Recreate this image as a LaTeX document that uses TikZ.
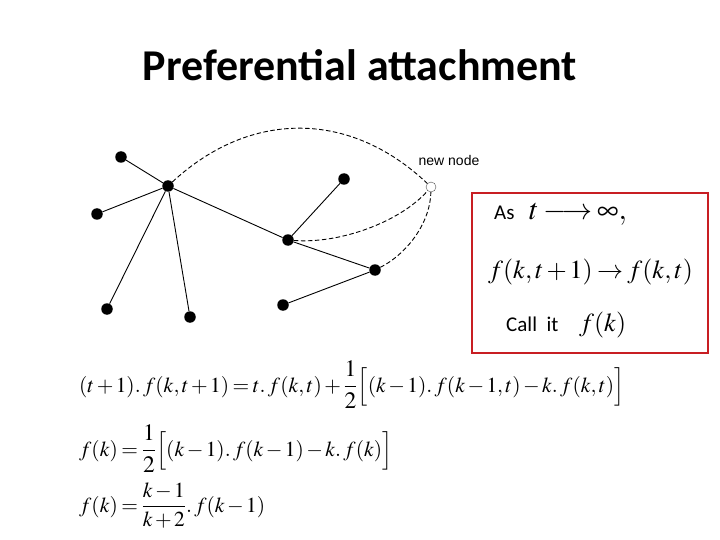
\documentclass[tikz,border=0pt]{standalone}
\usepackage{amsmath}
\usepackage{mathptmx}
\usepackage{fontspec}
\setmainfont{Carlito}
\newfontfamily\arialfont{Liberation Sans}
\usetikzlibrary{positioning}
\definecolor{boxred}{RGB}{200,30,35}
\tikzset{
  dot/.style={circle, fill=black, inner sep=0pt, minimum size=11.5pt},
  newdot/.style={circle, draw=black!70, fill=white, inner sep=0pt, minimum size=10pt, thin},
  edge/.style={draw=black, line width=0.9pt},
  link/.style={draw=black, line width=0.9pt, dashed, dash pattern=on 4.5pt off 2.5pt},
  eq/.style={anchor=base west, inner sep=0pt, font=\fontsize{21.4}{24}\selectfont},
  txt/.style={anchor=base west, inner sep=0pt, font=\fontsize{21}{24}\selectfont},
}
\newcommand{\half}{\scalebox{1.1}{$\dfrac{1}{2}$}}
\medmuskip=2mu
\thickmuskip=3mu
\begin{document}
\begin{tikzpicture}[x=1pt, y=-1pt]
  \useasboundingbox (0,0) rectangle (720,540);
  \node[font=\fontsize{44}{48}\selectfont\bfseries, anchor=base] (title) at (360,81) {Preferential attachment};

  % the network
  \node[dot] (a) at (121,157) {};
  \node[dot] (hub) at (168,186) {};
  \node[dot] (b) at (97,214) {};
  \node[dot] (c) at (107,309) {};
  \node[dot] (d) at (190,317) {};
  \node[dot] (mid) at (288,240) {};
  \node[dot] (e) at (344,179) {};
  \node[dot] (f) at (375,270) {};
  \node[dot] (g) at (283,305) {};
  \node[newdot] (new) at (431,187) {};
  \node[font=\arialfont\fontsize{14}{16}\selectfont, inner sep=0pt] (newlbl) at (449,160) {new node};
  \foreach \u/\v in {a/hub, b/hub, c/hub, d/hub, hub/mid, mid/e, mid/f, f/g}
    \draw[edge] (\u) -- (\v);
  \draw[link] (hub) .. controls (250,110) and (350,110) .. (new);
  \draw[link] (mid) .. controls (340,244) and (400,222) .. (new);
  \draw[link] (f) .. controls (405,255) and (430,225) .. (new);

  % limit box
  \draw[boxred, line width=2.6pt] (472,193) rectangle (708,353);
  \node[txt] (as) at (494,219) {As};
  \node[eq, font=\fontsize{30}{32}\selectfont] (lim) at (529,219) {$t\longrightarrow\infty,$};
  \node[eq, font=\fontsize{26}{28}\selectfont] (conv) at (488,278) {$f(k,t+1)\rightarrow f(k,t)$};
  \node[txt] (call) at (506,331) {Call\ \ it};
  \node[eq, font=\fontsize{26}{28}\selectfont] (fk) at (579,331) {$f(k)$};

  % recurrence
  \node[eq] (eqa) at (79,392) {$(t+1).\,f(k,t+1)=t.\,f(k,t)+\half\Big[(k-1).\,f(k-1,t)-k.\,f(k,t)\Big]$};
  \node[eq] (eqb) at (79,456) {$f(k)=\half\Big[(k-1).\,f(k-1)-k.\,f(k)\Big]$};
  \node[eq] (eqc) at (79,512) {$f(k)=\dfrac{k-1}{k+2}.\,f(k-1)$};
\end{tikzpicture}
\end{document}
